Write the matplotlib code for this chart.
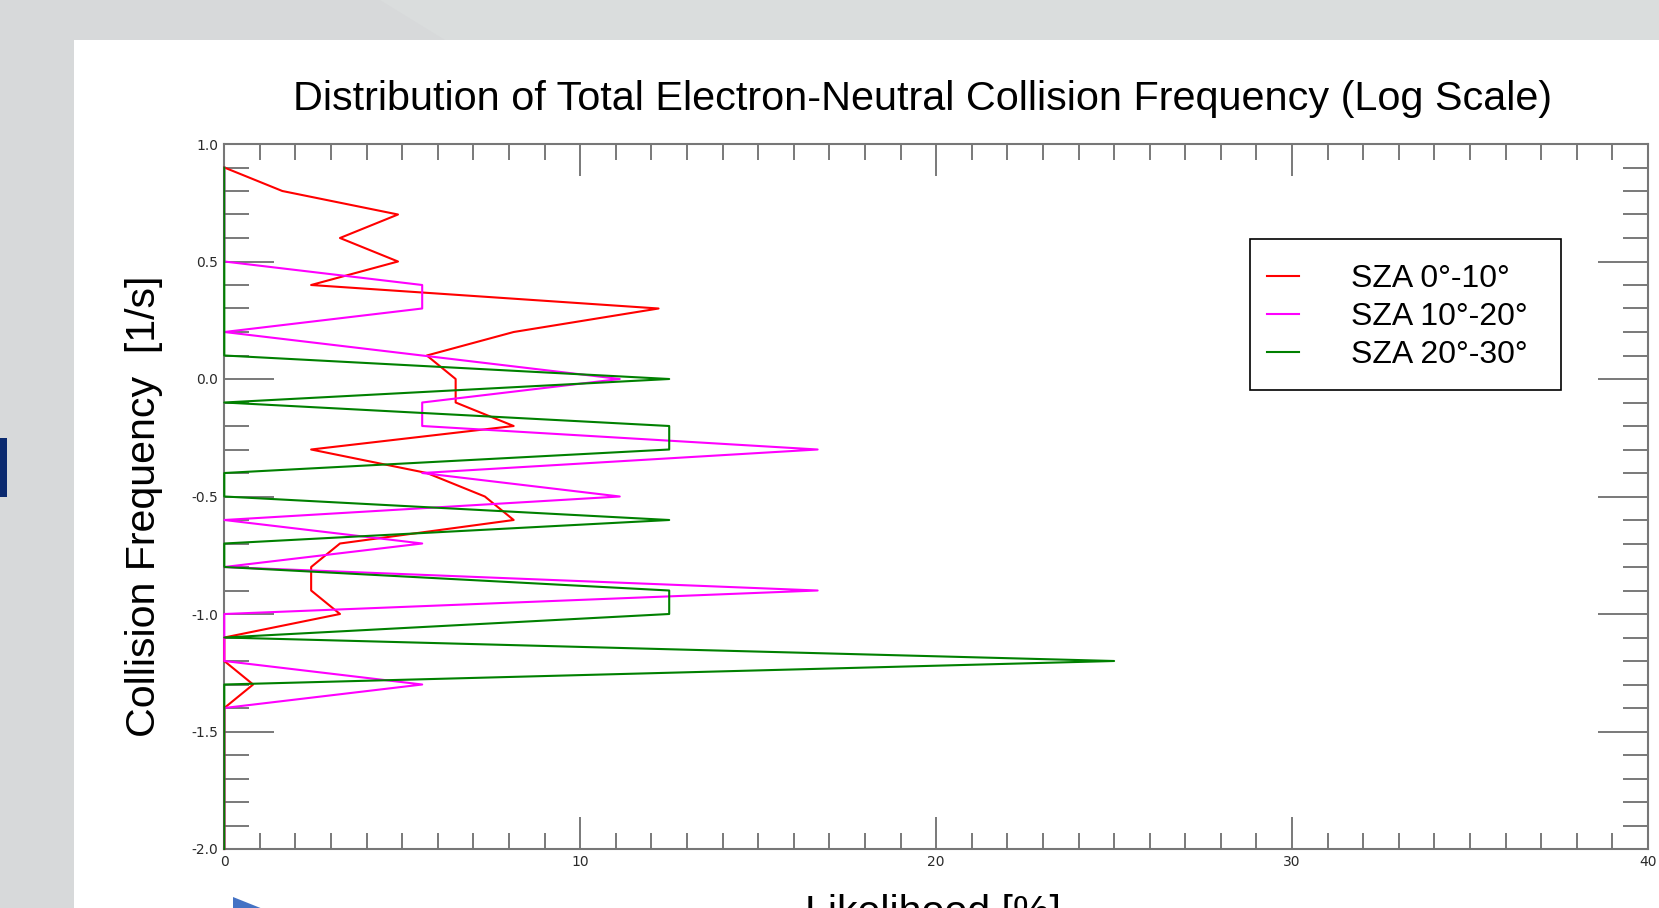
import matplotlib

matplotlib.use("Agg")
import matplotlib.pyplot as plt
from matplotlib.patches import Rectangle, Polygon
from matplotlib.ticker import MultipleLocator, FormatStrFormatter
from matplotlib.font_manager import FontProperties

plt.rcParams["axes.unicode_minus"] = False

# log10 collision frequency bins [1/s]
freq_bins = [0.9, 0.8, 0.7, 0.6, 0.5, 0.4, 0.3, 0.2, 0.1, 0.0,
             -0.1, -0.2, -0.3, -0.4, -0.5, -0.6, -0.7, -0.8, -0.9, -1.0,
             -1.1, -1.2, -1.3, -1.4, -1.5, -1.6, -1.7, -1.8, -1.9, -2.0]

# likelihood [%] per bin, one list per solar zenith angle range
sza_0_10 = [0.0, 1.63, 4.88, 3.25, 4.88, 2.44, 12.20, 8.13, 5.69, 6.50,
            6.50, 8.13, 2.44, 5.69, 7.32, 8.13, 3.25, 2.44, 2.44, 3.25,
            0.0, 0.0, 0.81, 0.0, 0.0, 0.0, 0.0, 0.0, 0.0, 0.0]
sza_10_20 = [0.0, 0.0, 0.0, 0.0, 0.0, 5.56, 5.56, 0.0, 5.56, 11.11,
             5.56, 5.56, 16.67, 5.56, 11.11, 0.0, 5.56, 0.0, 16.67, 0.0,
             0.0, 0.0, 5.56, 0.0, 0.0, 0.0, 0.0, 0.0, 0.0, 0.0]
sza_20_30 = [0.0, 0.0, 0.0, 0.0, 0.0, 0.0, 0.0, 0.0, 0.0, 12.5,
             0.0, 12.5, 12.5, 0.0, 0.0, 12.5, 0.0, 0.0, 12.5, 12.5,
             0.0, 25.0, 0.0, 0.0, 0.0, 0.0, 0.0, 0.0, 0.0, 0.0]

series = [
    (sza_0_10, "SZA 0°-10°", "#ff0000"),
    (sza_10_20, "SZA 10°-20°", "#ff00ff"),
    (sza_20_30, "SZA 20°-30°", "#008000"),
]

W, H = 1659, 908
fig = plt.figure(figsize=(W / 100, H / 100), dpi=100)
fig.patch.set_facecolor("#d7d9da")


def px(x, y):
    # pixel position (from top-left) -> figure fraction
    return x / W, 1 - y / H


# slide backdrop
fig.add_artist(Polygon([px(380, 0), px(W, 0), px(W, 40), px(445, 40)],
                       closed=True, transform=fig.transFigure,
                       facecolor="#dadddd", edgecolor="none", zorder=-2))
fig.add_artist(Rectangle(px(74, H), (W - 74) / W, (H - 40) / H,
                         transform=fig.transFigure, facecolor="white",
                         edgecolor="none", zorder=-1))
fig.add_artist(Rectangle(px(0, 497), 7 / W, 59 / H, transform=fig.transFigure,
                         facecolor="#0b2a6f", edgecolor="none", zorder=-1))
fig.add_artist(Polygon([px(233, 897), px(263, 909), px(233, 909)], closed=True,
                       transform=fig.transFigure, facecolor="#4472c4",
                       edgecolor="none", zorder=-1))

left, bottom = px(224.3, 849)
ax = fig.add_axes([left, bottom, (1648 - 224.3) / W, (849 - 144) / H])

handles = []
for vals, label, color in series:
    line, = ax.plot(vals, freq_bins, color=color, lw=1.5, label=label,
                    clip_on=False, zorder=3)
    handles.append(line)

ax.set_xlim(0, 40)
ax.set_ylim(-2.0, 1.0)

ax.xaxis.set_major_locator(MultipleLocator(10))
ax.xaxis.set_minor_locator(MultipleLocator(1))
ax.yaxis.set_major_locator(MultipleLocator(0.5))
ax.yaxis.set_minor_locator(MultipleLocator(0.1))
ax.xaxis.set_major_formatter(FormatStrFormatter("%d"))
ax.yaxis.set_major_formatter(FormatStrFormatter("%.1f"))

ax.tick_params(which="both", direction="in", top=True, right=True,
               color="#555555", width=1.1, labelsize=10,
               labelcolor="#2a2a2a", pad=4.5)
ax.tick_params(axis="x", which="major", length=23)
ax.tick_params(axis="x", which="minor", length=11.5)
ax.tick_params(axis="y", which="major", length=36)
ax.tick_params(axis="y", which="minor", length=18)
for sp in ax.spines.values():
    sp.set_color("#777777")
    sp.set_linewidth(1.5)

big = "Liberation Sans"
fig.text(*px(923, 110), "Distribution of Total Electron-Neutral Collision Frequency (Log Scale)",
         family=big, fontsize=29.8, ha="center", va="baseline")
fig.text(*px(155, 506), "Collision Frequency  [1/s]", family=big, fontsize=29.6,
         rotation=90, rotation_mode="anchor", ha="center", va="baseline")
fig.text(*px(933, 924), "Likelihood [%]", family=big, fontsize=29.6,
         ha="center", va="baseline")

# legend with a separately drawn box
ax.legend(handles=handles, loc="upper left", bbox_to_anchor=px(1267, 264),
          bbox_transform=fig.transFigure, frameon=False, borderpad=0,
          borderaxespad=0, handlelength=1.0, handletextpad=1.63,
          labelspacing=0.25, prop=FontProperties(family=big, size=23))
fig.add_artist(Rectangle(px(1250, 390), 311 / W, 151 / H,
                         transform=fig.transFigure, facecolor="none",
                         edgecolor="black", lw=1.2, zorder=5))

fig.savefig("out.png", dpi=100)
